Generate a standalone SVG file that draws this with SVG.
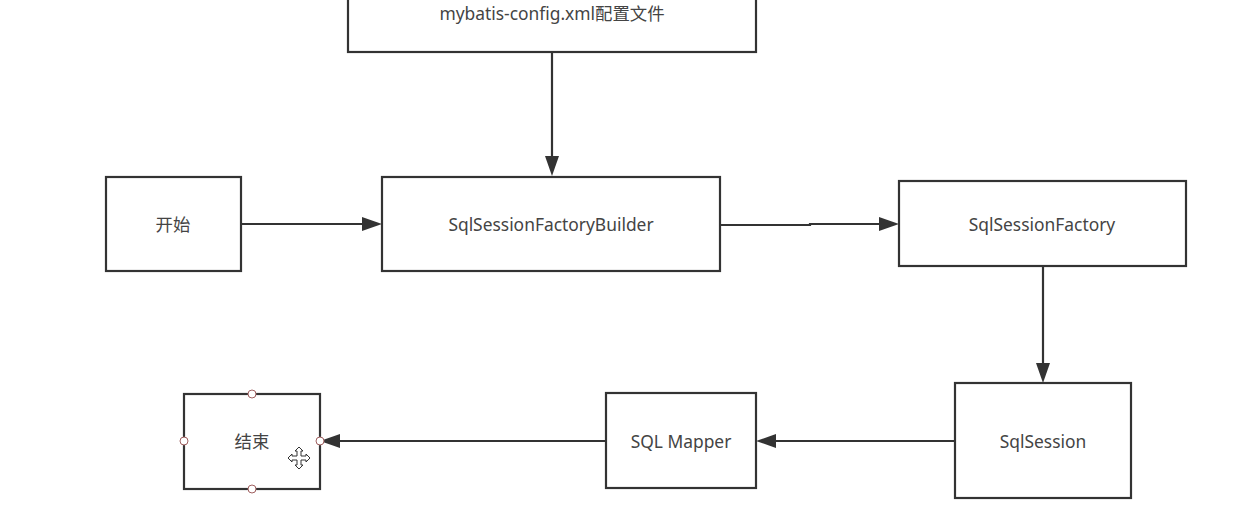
<svg xmlns="http://www.w3.org/2000/svg" width="1236" height="515" viewBox="0 0 1236 515">
<defs>
<style>
.box{fill:#fff;stroke:#333;stroke-width:2.2}
.t{font-family:"Noto Sans","Noto Sans CJK SC",sans-serif;font-size:17.4px;fill:#444;text-anchor:middle;dominant-baseline:central}
.c{fill:none;stroke:#333;stroke-width:2.2}
.a{fill:#333}
.h{fill:#fff;stroke:#a06060;stroke-width:1}
</style>
</defs>
<rect width="1236" height="515" fill="#fff"/>
<g id="connectors">
<path class="c" d="M552,52 V156"/>
<path class="a" d="M545,156 L552,176 L559,156 z"/>
<path class="c" d="M241,224 H362"/>
<path class="a" d="M362,217 L382,224 L362,231 z"/>
<path class="c" d="M720,225 H810 V224 H879"/>
<path class="a" d="M879,217 L899,224 L879,231 z"/>
<path class="c" d="M1043,266 V363"/>
<path class="a" d="M1036,363 L1043,383 L1050,363 z"/>
<path class="c" d="M955,441 H776"/>
<path class="a" d="M776,434 L756,441 L776,448 z"/>
<path class="c" d="M606,441 H340"/>
<path class="a" d="M340,434 L320,441 L340,448 z"/>
</g>
<g id="config">
<rect class="box" x="348" y="-10" width="408" height="62"/>
<text class="t" x="552" y="13">mybatis-config.xml配置文件</text>
</g>
<g id="start">
<rect class="box" x="106" y="177" width="135" height="94"/>
<text class="t" x="173" y="224">开始</text>
</g>
<g id="builder">
<rect class="box" x="382" y="177" width="338" height="94"/>
<text class="t" x="551" y="224">SqlSessionFactoryBuilder</text>
</g>
<g id="factory">
<rect class="box" x="899" y="181" width="287" height="85"/>
<text class="t" x="1042" y="224">SqlSessionFactory</text>
</g>
<g id="session">
<rect class="box" x="955" y="383" width="176" height="115"/>
<text class="t" x="1043" y="441">SqlSession</text>
</g>
<g id="mapper">
<rect class="box" x="606" y="393" width="150" height="95"/>
<text class="t" x="681" y="441">SQL Mapper</text>
</g>
<g id="end">
<rect class="box" x="184" y="394" width="136" height="95"/>
<text class="t" x="252" y="441">结束</text>
<circle class="h" cx="252" cy="394" r="4"/>
<circle class="h" cx="252" cy="489" r="4"/>
<circle class="h" cx="184" cy="441" r="4"/>
<circle class="h" cx="320" cy="441" r="4"/>
</g>
<g id="cursor" transform="translate(299,458)" fill="#fff" stroke="#333" stroke-width="1">
<path d="M0,-11 L4,-7 L2,-7 L2,-2 L7,-2 L7,-4 L11,0 L7,4 L7,2 L2,2 L2,7 L4,7 L0,11 L-4,7 L-2,7 L-2,2 L-7,2 L-7,4 L-11,0 L-7,-4 L-7,-2 L-2,-2 L-2,-7 L-4,-7 z"/>
</g>
</svg>
